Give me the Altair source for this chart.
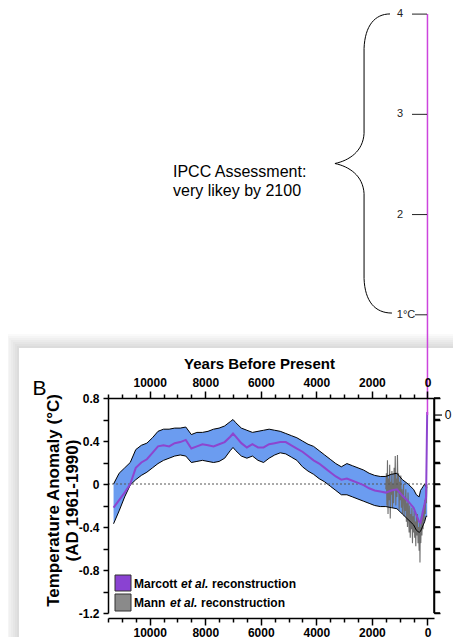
import altair as alt
import pandas as pd

FONT = "Liberation Sans"

# ---- Marcott et al. reconstruction (years BP) ----
years = [11300, 11100, 10900, 10700, 10500, 10300, 10100, 9900, 9700, 9500,
         9300, 9100, 8900, 8700, 8500, 8300, 8100, 7900, 7700, 7500,
         7300, 7100, 7000, 6900, 6700, 6500, 6300, 6100, 5900, 5700,
         5500, 5300, 5100, 4900, 4700, 4500, 4300, 4100, 3900, 3700,
         3500, 3300, 3100, 2900, 2700, 2500, 2300, 2100, 1900, 1700,
         1500, 1300, 1100, 900, 700, 500, 400, 300, 250, 200,
         150, 100, 50, 10]
mid = [-0.22, -0.15, -0.08, 0.00, 0.15, 0.20, 0.23, 0.29, 0.35, 0.36,
       0.35, 0.38, 0.39, 0.41, 0.33, 0.35, 0.37, 0.36, 0.35, 0.37,
       0.39, 0.44, 0.47, 0.44, 0.38, 0.34, 0.37, 0.34, 0.34, 0.37,
       0.38, 0.39, 0.39, 0.36, 0.33, 0.30, 0.26, 0.22, 0.19, 0.15,
       0.11, 0.07, 0.04, 0.05, 0.03, 0.01, -0.01, -0.04, -0.06, -0.07,
       -0.08, -0.06, -0.05, -0.11, -0.16, -0.22, -0.29, -0.35, -0.36, -0.30,
       -0.24, -0.18, -0.12, 0.67]
upper = [0.00, 0.10, 0.15, 0.20, 0.32, 0.36, 0.38, 0.43, 0.49, 0.51,
         0.51, 0.52, 0.52, 0.53, 0.46, 0.48, 0.48, 0.49, 0.51, 0.52,
         0.54, 0.58, 0.60, 0.57, 0.52, 0.50, 0.48, 0.49, 0.50, 0.51,
         0.50, 0.49, 0.47, 0.45, 0.43, 0.40, 0.37, 0.35, 0.31, 0.27,
         0.23, 0.19, 0.16, 0.19, 0.17, 0.15, 0.13, 0.10, 0.08, 0.07,
         0.07, 0.09, 0.10, 0.04, 0.00, -0.05, -0.10, -0.12, -0.06, -0.04,
         -0.02, 0.00, -0.03, -0.03]
lower = [-0.37, -0.25, -0.12, -0.01, 0.04, 0.08, 0.11, 0.15, 0.19, 0.22,
         0.24, 0.26, 0.27, 0.26, 0.20, 0.21, 0.22, 0.21, 0.20, 0.21,
         0.24, 0.31, 0.34, 0.31, 0.26, 0.24, 0.26, 0.22, 0.20, 0.24,
         0.27, 0.29, 0.28, 0.25, 0.22, 0.16, 0.12, 0.09, 0.05, 0.02,
         -0.02, -0.06, -0.10, -0.10, -0.12, -0.14, -0.16, -0.18, -0.20, -0.21,
         -0.21, -0.22, -0.23, -0.28, -0.33, -0.38, -0.43, -0.45, -0.44, -0.41,
         -0.38, -0.35, -0.30, -0.30]

# ---- Mann et al. reconstruction ----
mann_years = [1500, 1480, 1460, 1440, 1420, 1400, 1380, 1360, 1340, 1320,
              1300, 1280, 1260, 1240, 1220, 1200, 1180, 1160, 1140, 1120,
              1100, 1080, 1060, 1040, 1020, 1000, 980, 960, 940, 920,
              900, 880, 860, 840, 820, 800, 780, 760, 740, 720,
              700, 680, 660, 640, 620, 600, 580, 560, 540, 520,
              500, 480, 460, 440, 420, 400, 380, 360, 340, 320,
              300, 280, 270, 260, 240, 220, 200, 180, 160, 140,
              120, 100, 80, 60, 40, 20]
mann_vals = [-0.05, 0.10, -0.20, 0.22, -0.28, 0.05, -0.15, 0.18, -0.32, 0.02,
             -0.10, 0.12, -0.22, 0.00, -0.18, 0.15, -0.05, 0.26, -0.20, 0.05,
             -0.12, 0.27, -0.08, 0.10, -0.24, 0.02, -0.15, 0.08, -0.22, -0.05,
             -0.28, -0.10, 0.00, -0.30, -0.12, -0.25, -0.05, -0.35, -0.18, -0.40,
             -0.08, -0.30, -0.45, -0.20, -0.50, -0.28, -0.42, -0.22, -0.55, -0.30,
             -0.45, -0.25, -0.50, -0.35, -0.58, -0.30, -0.48, -0.28, -0.55, -0.40,
             -0.62, -0.35, -0.73, -0.40, -0.55, -0.30, -0.48, -0.25, -0.42, -0.20,
             -0.35, -0.15, -0.28, -0.05, -0.18, 0.00]

# ---- IPCC scale ----
ipcc_tick_vals = [2, 3, 4]
ipcc_tick_labels = ["2", "3", "4"]
ipcc_one = [1]
ipcc_one_label = ["1°C"]
ipcc_range = [4, 0]
ipcc_note = ["IPCC Assessment:\nvery likey by 2100"]

x_ticks = list(range(11500, -1, -500))
y_ticks = [-1.2, -1.0, -0.8, -0.6, -0.4, -0.2, 0.0, 0.2, 0.4, 0.6, 0.8]

legend_names = ["Marcott", "Mann"]
legend_colors = ["#8a42d2", "#8a8a8a"]

x_scale = alt.Scale(domain=[11500, -235], nice=False, zero=False)
y_scale = alt.Scale(domain=[-1.2, 0.8], nice=False, zero=False)
ipcc_scale = alt.Scale(domain=[-1.975, 0.17], nice=False, zero=False)

tick_cond = {"condition": {"test": "datum.value % 2000 == 0", "value": 7}, "value": 4}
common_axis = dict(labelFont=FONT, labelFontSize=12, labelFontWeight="bold",
                   labelColor="black", domainColor="black", domainWidth=1.5,
                   tickColor="black", tickWidth=1.5, grid=False, labelOverlap=False,
                   zindex=1)

top_axis = alt.Axis(orient="top", values=x_ticks, format="d",
                    labelExpr="datum.value % 2000 == 0 ? datum.label : ''",
                    tickSize=tick_cond, labelPadding=2,
                    title="Years Before Present", titleFont=FONT, titleFontSize=15,
                    titleFontWeight="bold", titleColor="black", titleX=151, titleY=-35,
                    titleBaseline="middle", titleAlign="center", **common_axis)
bottom_axis = alt.Axis(orient="bottom", values=x_ticks, format="d", offset=5,
                       labelExpr="datum.value % 2000 == 0 ? datum.label : ''",
                       tickSize=tick_cond, labelPadding=2, title=None, **common_axis)
left_axis = alt.Axis(orient="left", values=y_ticks,
                     labelExpr="abs(round(datum.value*10) % 4) == 0 ? '' + datum.value : ''",
                     tickSize=5, labelPadding=4,
                     title=["Temperature Anomaly (°C)", "(AD 1961-1990)"],
                     titleFont=FONT, titleFontSize=17, titleFontWeight="bold",
                     titleColor="black", titleLineHeight=19, titleX=-55, titleY=102,
                     titleBaseline="middle", titleAlign="center", **common_axis)
right_axis = alt.Axis(orient="right", values=y_ticks, labels=False, tickSize=6,
                      title=None, **common_axis)

mdf = pd.DataFrame({"year": years, "mid": mid, "up": upper, "lo": lower})
mann_df = pd.DataFrame({"year": mann_years, "val": mann_vals})
ydf = pd.DataFrame({"v": y_ticks})
one = pd.DataFrame({"a": [0]})

band = alt.Chart(mdf).mark_area(color="#6b9cf0", opacity=1).encode(
    x=alt.X("year:Q", scale=x_scale, axis=top_axis),
    y=alt.Y("up:Q", scale=y_scale, axis=left_axis),
    y2="lo:Q")
mann = alt.Chart(mann_df).mark_line(color="#6e6e6e", strokeWidth=1.1).encode(
    x=alt.X("year:Q", scale=x_scale, axis=bottom_axis),
    y=alt.Y("val:Q", scale=y_scale, axis=None))
up_edge = alt.Chart(mdf).mark_line(color="black", strokeWidth=1).encode(
    x=alt.X("year:Q", scale=x_scale, axis=None),
    y=alt.Y("up:Q", scale=y_scale, axis=None))
lo_edge = alt.Chart(mdf).mark_line(color="black", strokeWidth=1).encode(
    x=alt.X("year:Q", scale=x_scale, axis=None),
    y=alt.Y("lo:Q", scale=y_scale, axis=None))
zero = alt.Chart(pd.DataFrame({"z": [0.0]})).mark_rule(
    color="#555555", strokeDash=[2, 2], strokeWidth=1).encode(
    y=alt.Y("z:Q", scale=y_scale, axis=None))
mid_line = alt.Chart(mdf).mark_line(color="#8d45cf", strokeWidth=2).encode(
    x=alt.X("year:Q", scale=x_scale, axis=None),
    y=alt.Y("mid:Q", scale=y_scale, axis=None))

lower_panel = alt.layer(band, mann, up_edge, lo_edge, zero, mid_line).resolve_axis(
    x="independent", y="independent")

# right-hand axis of the lower panel (mirrors the left scale, no labels)
right_axis_layer = alt.Chart(ydf).mark_rule(color="black", strokeWidth=1.5).encode(
    y=alt.Y("v:Q", scale=y_scale, axis=right_axis), x=alt.value(326), x2=alt.value(332))
right_line = alt.Chart(one).mark_rule(color="black", strokeWidth=1.5).encode(
    x=alt.value(326), y=alt.value(0), y2=alt.value(215))

# ---- IPCC overlay on its own scale ----
mag = alt.Chart(pd.DataFrame({"year": [0], "top": [ipcc_range[0]], "bot": [ipcc_range[1]]})).mark_rule(
    color="#cc44dd", strokeWidth=1.5).encode(
    x=alt.X("year:Q", scale=x_scale, axis=None),
    y=alt.Y("top:Q", scale=ipcc_scale, axis=None),
    y2="bot:Q")
tdf = pd.DataFrame({"v": ipcc_tick_vals, "lab": ipcc_tick_labels})
odf = pd.DataFrame({"v": ipcc_one, "lab": ipcc_one_label})
zdf = pd.DataFrame({"v": [0], "lab": ["0"]})
ticks = alt.Chart(tdf).mark_rule(color="#222222", strokeWidth=1).encode(
    y=alt.Y("v:Q", scale=ipcc_scale, axis=None), x=alt.value(304), x2=alt.value(319))
tick_labels = alt.Chart(tdf).mark_text(font=FONT, fontSize=11, color="#222222",
                                       align="center", baseline="middle").encode(
    y=alt.Y("v:Q", scale=ipcc_scale, axis=None), x=alt.value(292), text="lab:N")
one_tick = alt.Chart(odf).mark_rule(color="#222222", strokeWidth=1).encode(
    y=alt.Y("v:Q", scale=ipcc_scale, axis=None), x=alt.value(307), x2=alt.value(319))
one_label = alt.Chart(odf).mark_text(font=FONT, fontSize=11, color="#222222",
                                     align="center", baseline="middle").encode(
    y=alt.Y("v:Q", scale=ipcc_scale, axis=None), x=alt.value(298), text="lab:N")
zero_tick = alt.Chart(zdf).mark_rule(color="black", strokeWidth=1.2).encode(
    y=alt.Y("v:Q", scale=ipcc_scale, axis=None), x=alt.value(326), x2=alt.value(334))
zero_label = alt.Chart(zdf).mark_text(font=FONT, fontSize=12, color="black",
                                      align="center", baseline="middle").encode(
    y=alt.Y("v:Q", scale=ipcc_scale, axis=None), x=alt.value(340), text="lab:N")
ipcc_layer = alt.layer(mag, ticks, tick_labels, one_tick, one_label, zero_tick, zero_label)

# ---- decorations ----
brace_path = ("M 0.18 -0.997 C 0.08 -0.997 0.013 -0.92 0.007 -0.767 "
              "L 0.007 -0.2 C 0.0 -0.08 -0.093 -0.02 -0.187 0 "
              "C -0.093 0.02 0.0 0.08 0.007 0.2 L 0.007 0.767 "
              "C 0.013 0.92 0.08 0.997 0.193 0.997")
brace = alt.Chart(one).mark_point(shape=brace_path, size=90000, filled=False,
                                  color="black", strokeWidth=1, opacity=1).encode(
    x=alt.value(255), y=alt.value(-234.5))
note = alt.Chart(pd.DataFrame({"t": ipcc_note})).mark_text(
    font=FONT, fontSize=16, color="black", align="left", baseline="middle",
    lineBreak="\n", lineHeight=19).encode(x=alt.value(65), y=alt.value(-226.5), text="t:N")
panel_b = alt.Chart(pd.DataFrame({"t": ["B"]})).mark_text(
    font=FONT, fontSize=21, color="black", align="center", baseline="middle").encode(
    x=alt.value(-68.5), y=alt.value(-9.5), text="t:N")

shadows = []
for i in range(1, 8):
    d = 2 * i
    shadows.append(alt.Chart(one).mark_rect(color="black", opacity=0.02).encode(
        x=alt.value(-89 - d), x2=alt.value(345 + d), y=alt.value(-50 - d), y2=alt.value(280)))
box = alt.Chart(one).mark_rect(color="white", opacity=1).encode(
    x=alt.value(-89), x2=alt.value(345), y=alt.value(-50), y2=alt.value(280))

# legend
sw1 = alt.Chart(one).mark_rect(color=legend_colors[0], stroke="#333333", strokeWidth=1).encode(
    x=alt.value(7), x2=alt.value(23), y=alt.value(177), y2=alt.value(193))
sw2 = alt.Chart(one).mark_rect(color=legend_colors[1], stroke="#333333", strokeWidth=1).encode(
    x=alt.value(7), x2=alt.value(23), y=alt.value(196), y2=alt.value(213))

def legend_text(txt, x, y, italic=False):
    return alt.Chart(pd.DataFrame({"t": [txt]})).mark_text(
        font=FONT, fontSize=12, fontWeight="bold",
        fontStyle="italic" if italic else "normal", color="black",
        align="left", baseline="middle").encode(x=alt.value(x), y=alt.value(y), text="t:N")

legend_layers = [
    legend_text(legend_names[0], 26, 186), legend_text("et al.", 73, 186, True),
    legend_text("reconstruction", 104, 186),
    legend_text(legend_names[1], 26, 205), legend_text("et al.", 62, 205, True),
    legend_text("reconstruction", 93, 205),
]

chart = alt.layer(*shadows, box, lower_panel, right_axis_layer, right_line, ipcc_layer,
                  brace, note, panel_b, sw1, sw2, *legend_layers).resolve_scale(
    y="independent").resolve_axis(x="independent", y="independent").properties(
    width=326, height=215,
    autosize=alt.AutoSizeParams(type="none"),
    padding={"left": 100, "top": 390, "right": 19, "bottom": 40},
).configure_view(strokeWidth=0).configure(background="white")

chart.save("out.html", embed_options={"renderer": "svg", "actions": False})
